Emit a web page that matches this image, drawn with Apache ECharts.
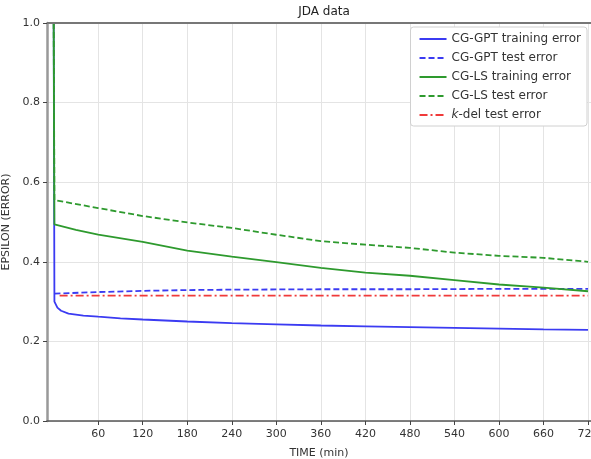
<!DOCTYPE html>
<html>
<head>
<meta charset="utf-8">
<script src="https://cdn.jsdelivr.net/npm/echarts@6/dist/echarts.min.js"></script>
<style>
  html, body { margin: 0; padding: 0; background: #fff; }
  #main { width: 591px; height: 459px; }
</style>
</head>
<body>
<div id="main"></div>
<script>
// values
var xTicks = [60, 120, 180, 240, 300, 360, 420, 480, 540, 600, 660, 720];
var yTicks = [0, 0.2, 0.4, 0.6, 0.8, 1.0];

var gptTrainT = [0, 1, 5, 10, 20, 40, 60, 90, 120, 180, 240, 300, 360, 420, 480, 540, 600, 660, 720];
var gptTrainV = [1.0, 0.30, 0.285, 0.277, 0.27, 0.265, 0.262, 0.258, 0.255, 0.250, 0.246, 0.243, 0.240, 0.238, 0.236, 0.234, 0.232, 0.230, 0.229];

var gptTestT = [1, 60, 120, 180, 240, 360, 480, 600, 720];
var gptTestV = [0.320, 0.324, 0.327, 0.329, 0.330, 0.331, 0.331, 0.332, 0.332];

var lsTrainT = [0, 1, 30, 60, 120, 180, 240, 300, 360, 420, 480, 540, 600, 660, 720];
var lsTrainV = [1.0, 0.494, 0.48, 0.468, 0.45, 0.428, 0.413, 0.399, 0.385, 0.373, 0.365, 0.354, 0.343, 0.335, 0.326];

var lsTestT = [0, 1, 60, 120, 180, 240, 300, 360, 420, 480, 540, 600, 660, 720];
var lsTestV = [1.0, 0.555, 0.535, 0.515, 0.499, 0.485, 0.468, 0.452, 0.443, 0.435, 0.423, 0.415, 0.41, 0.40];

var kdelT = [8, 720];
var kdelV = [0.315, 0.315];

function pairs(t, v) {
  return t.map(function (x, i) { return [x, v[i]]; });
}

var chart = echarts.init(document.getElementById('main'), null, { renderer: 'canvas' });

var axisTxt = { color: '#333', fontSize: 11, fontFamily: 'DejaVu Sans' };

var option = {
  animation: false,
  title: {
    text: 'JDA data', left: 319, textAlign: 'center', top: 1,
    textStyle: { fontSize: 12, fontWeight: 'normal', color: '#222', fontFamily: 'DejaVu Sans' }
  },
  legend: {
    orient: 'vertical', right: 4, top: 27,
    padding: [6, 6, 5, 8], itemGap: 7,
    itemWidth: 27, itemHeight: 10,
    borderColor: '#d0d0d0', borderWidth: 1, borderRadius: 3,
    backgroundColor: '#fff',
    itemStyle: { opacity: 0 },
    textStyle: {
      fontSize: 12, color: '#333', fontFamily: 'DejaVu Sans',
      rich: { i: { fontStyle: 'italic', fontSize: 12, color: '#333', fontFamily: 'DejaVu Sans' } }
    },
    formatter: function (name) {
      return name === 'k-del test error' ? '{i|k}-del test error' : name;
    },
    data: ['CG-GPT training error', 'CG-GPT test error', 'CG-LS training error', 'CG-LS test error', 'k-del test error']
  },
  grid: { left: 47, right: 0, top: 23, bottom: 38, outerBoundsMode: 'none' },
  xAxis: {
    type: 'value', min: -9, max: 724,
    name: 'TIME (min)', nameLocation: 'middle', nameGap: 27,
    nameTextStyle: axisTxt,
    axisLine: { show: true, onZero: false, lineStyle: { color: '#555', width: 1.5 } },
    axisTick: { show: true, length: 4, inside: false, customValues: xTicks, lineStyle: { color: '#444' } },
    axisLabel: Object.assign({ customValues: xTicks, margin: 8 }, axisTxt),
    splitLine: { show: true, lineStyle: { color: '#e4e4e4', width: 1 } }
  },
  yAxis: {
    type: 'value', min: 0, max: 1, interval: 0.2,
    name: 'EPSILON (ERROR)', nameLocation: 'middle', nameGap: 31,
    nameTextStyle: axisTxt,
    axisLine: { show: true, onZero: false, lineStyle: { color: '#999', width: 2.5 } },
    axisTick: { show: true, length: 4, lineStyle: { color: '#444' } },
    axisLabel: Object.assign({ margin: 7, formatter: function (v) { return v.toFixed(1); } }, axisTxt),
    splitLine: { show: true, lineStyle: { color: '#e4e4e4', width: 1 } }
  },
  series: [
    {
      name: 'CG-GPT training error', type: 'line', symbol: 'none', z: 3,
      lineStyle: { color: '#3b3bf2', width: 1.8 }, itemStyle: { color: '#3b3bf2' },
      data: pairs(gptTrainT, gptTrainV)
    },
    {
      name: 'CG-GPT test error', type: 'line', symbol: 'none', z: 3,
      lineStyle: { color: '#3b3bf2', width: 1.8, type: [6, 3] }, itemStyle: { color: '#3b3bf2' },
      data: pairs(gptTestT, gptTestV)
    },
    {
      name: 'CG-LS training error', type: 'line', symbol: 'none', z: 3,
      lineStyle: { color: '#2e9a2e', width: 1.8 }, itemStyle: { color: '#2e9a2e' },
      data: pairs(lsTrainT, lsTrainV)
    },
    {
      name: 'CG-LS test error', type: 'line', symbol: 'none', z: 3,
      lineStyle: { color: '#2e9a2e', width: 1.8, type: [6, 3] }, itemStyle: { color: '#2e9a2e' },
      data: pairs(lsTestT, lsTestV)
    },
    {
      name: 'k-del test error', type: 'line', symbol: 'none', z: 3,
      lineStyle: { color: '#f03a3a', width: 1.8, type: [8, 3, 2, 3] }, itemStyle: { color: '#f03a3a' },
      data: pairs(kdelT, kdelV)
    }
  ],
  graphic: [
    // top spine
    { type: 'line', z: 10, shape: { x1: 47, y1: 23, x2: 591, y2: 23 }, style: { stroke: '#777', lineWidth: 2 } }
  ]
};

chart.setOption(option);
</script>
</body>
</html>
